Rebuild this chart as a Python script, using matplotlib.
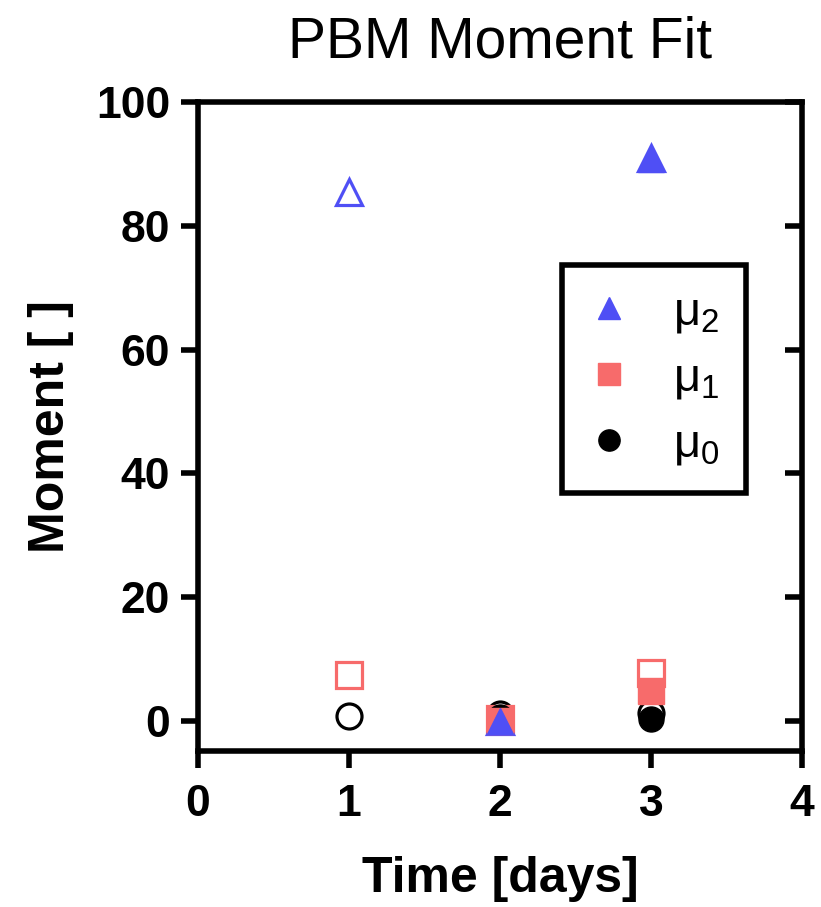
import numpy as np
import matplotlib
matplotlib.use("Agg")
import matplotlib.pyplot as plt

plt.rcParams['font.family'] = ['Liberation Sans', 'DejaVu Sans']
plt.rcParams['mathtext.fontset'] = 'custom'
plt.rcParams['mathtext.rm'] = 'Liberation Sans'
plt.rcParams['mathtext.it'] = 'Liberation Sans'

# Dane (czas w dniach)
czas_otwarte = [1, 2, 3]
mu0_otwarte = [0.8, 1.2, 1.3]
mu1_otwarte = [7.4, 0.3, 7.7]
mu2_otwarte = [85.5, 0.0, 91.0]

czas_pelne = [2, 3]
mu0_pelne = [0.6, 0.4]
mu1_pelne = [0.0, 4.8]
mu2_pelne = [0.0, 90.8]

etykiety = [r'μ$_2$', r'μ$_1$', r'μ$_0$']
kolory = ['#4f4ff5', '#f76b6b', 'black']

fig = plt.figure(figsize=(8.21, 9.07), dpi=100)
ax = fig.add_axes([0.241, 0.172, 0.736, 0.7155])

ms = 19
# otwarte markery
ax.plot(czas_otwarte, mu0_otwarte, 'o', ms=ms - 1, mfc='white', mec='black', mew=2.3, ls='none')
ax.plot(czas_otwarte, mu1_otwarte, 's', ms=ms, mfc='white', mec=kolory[1], mew=2.3, ls='none')
ax.plot(czas_otwarte, mu2_otwarte, '^', ms=ms, mfc='white', mec=kolory[0], mew=2.3, ls='none')
# pelne markery
l0, = ax.plot(czas_pelne, mu0_pelne, 'o', ms=ms - 1, color='black', ls='none')
l1, = ax.plot(czas_pelne, mu1_pelne, 's', ms=ms, color=kolory[1], ls='none')
l2, = ax.plot(czas_pelne, mu2_pelne, '^', ms=ms, color=kolory[0], ls='none')

ax.set_xlim(0, 4)
ax.set_ylim(-4.85, 100)
ax.set_xticks([0, 1, 2, 3, 4])
ax.set_yticks([0, 20, 40, 60, 80, 100])

for s in ax.spines.values():
    s.set_linewidth(4)
ax.tick_params(axis='both', which='major', length=12, width=4, labelsize=32, pad=8)
ax.tick_params(axis='x', pad=12)
ax.tick_params(axis='y', right=True, labelright=False)
for t in ax.yaxis.get_ticklines()[1::2]:
    t.set_marker(matplotlib.lines.TICKLEFT)
for lab in ax.get_xticklabels() + ax.get_yticklabels():
    lab.set_fontweight('bold')

ax.set_xlabel('Time [days]', fontsize=36, fontweight='bold', labelpad=22)
ax.set_ylabel('Moment [ ]', fontsize=36, fontweight='bold', labelpad=16)
ax.set_title('PBM Moment Fit', fontsize=41, pad=32)

leg = ax.legend([l2, l1, l0], etykiety, loc='upper left', bbox_to_anchor=(0.603, 0.749),
                fontsize=34, markerscale=0.85, frameon=True, fancybox=False,
                framealpha=1, edgecolor='black', handlelength=0.9, handletextpad=0.9,
                labelspacing=0.45, borderpad=0.55, borderaxespad=0)
leg.get_frame().set_linewidth(4)

fig.savefig('out.png', dpi=100)
